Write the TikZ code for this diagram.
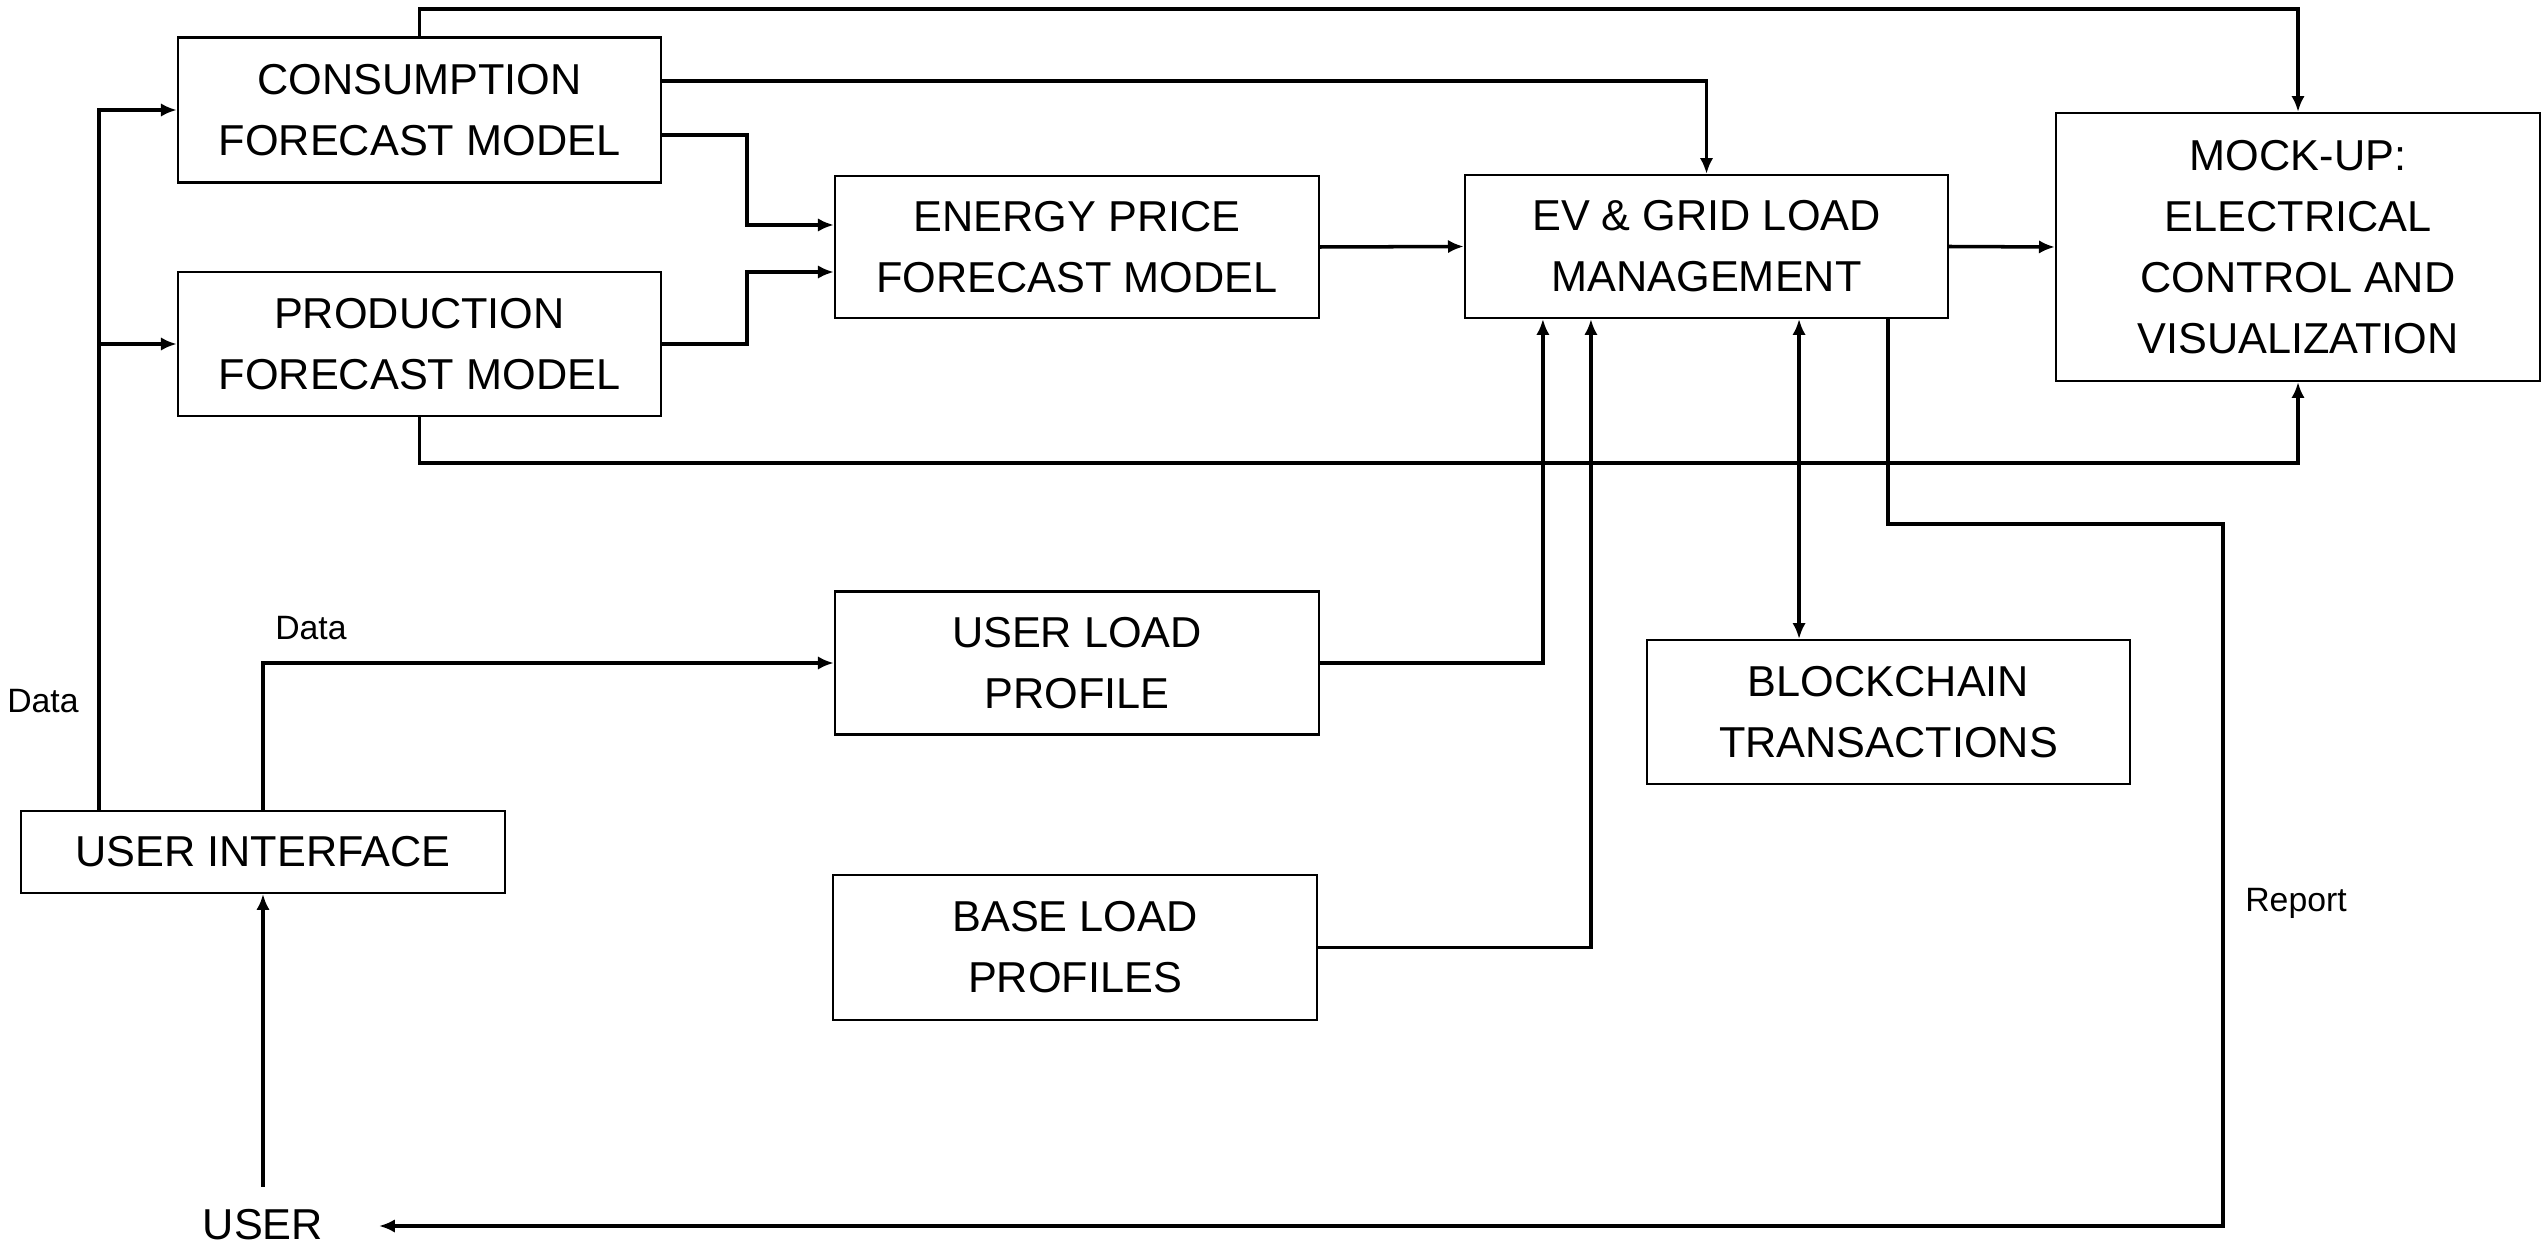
\documentclass[tikz,border=0pt]{standalone}
\usepackage{fontspec}
\setmainfont{Liberation Sans}
\usetikzlibrary{arrows.meta,calc}
\begin{document}
\begin{tikzpicture}[x=0.01cm,y=-0.01cm,
  blk/.style={draw,line width=0.6pt,inner sep=0pt,align=center,
    font=\fontsize{12.3}{17.4}\selectfont},
  conn/.style={line width=1pt,-{Latex[length=4.5pt,width=3.8pt]}},
  lbl/.style={font=\fontsize{9.6}{11}\selectfont,inner sep=0pt}]
\useasboundingbox (0,0) rectangle (2542,1246);
\node[blk,minimum width=4.83cm,minimum height=1.45cm] (cons) at (419.5,110) {CONSUMPTION\\FORECAST MODEL};
\node[blk,minimum width=4.83cm,minimum height=1.44cm] (prod) at (419.5,344) {PRODUCTION\\FORECAST MODEL};
\node[blk,minimum width=4.84cm,minimum height=1.42cm] (price) at (1077,247) {ENERGY PRICE\\FORECAST MODEL};
\node[blk,minimum width=4.83cm,minimum height=1.43cm] (ev) at (1706.5,246.5) {EV \& GRID LOAD\\MANAGEMENT};
\node[blk,minimum width=4.84cm,minimum height=2.68cm] (mock) at (2298,247) {MOCK-UP:\\ELECTRICAL\\CONTROL AND\\VISUALIZATION};
\node[blk,minimum width=4.84cm,minimum height=1.43cm] (ulp) at (1077,663) {USER LOAD\\PROFILE};
\node[blk,minimum width=4.83cm,minimum height=1.44cm] (bc) at (1888.5,712) {BLOCKCHAIN\\TRANSACTIONS};
\node[blk,minimum width=4.84cm,minimum height=0.82cm] (ui) at (263,852) {USER INTERFACE};
\node[blk,minimum width=4.84cm,minimum height=1.45cm] (blp) at (1075,947.5) {BASE LOAD\\PROFILES};
\node[font=\fontsize{12.3}{15}\selectfont,inner sep=0pt] (user) at (263,1225) {USER};
\coordinate (usertip) at (379,1226);

% top connectors
\draw[conn] (cons.north) -- ++(0,-27.5) -| (mock.north);
\draw[conn] ([yshift=0.29cm]cons.east) -| (ev.north);
\draw[conn] ([yshift=-0.25cm]cons.east) -- ++(85,0) |- ([yshift=0.22cm]price.west);
\draw[conn] (prod.east) -- ++(85,0) |- ([yshift=-0.25cm]price.west);
\draw[conn] (prod.south) -- ++(0,46) -| (mock.south);
\draw[conn] (price.east) -- (ev.west);
\draw[conn] (ev.east) -- (mock.west);

% left data lines
\draw[conn] ([xshift=-1.64cm]ui.north) |- (cons.west);
\draw[conn] ([xshift=-1.64cm]ui.north) |- (prod.west);
\node[lbl] (data1) at (43,701) {Data};
\draw[conn] (ui.north) |- (ulp.west);
\node[lbl] (data2) at (311,628) {Data};
\draw[conn] ([yshift=0.22cm]user.north) -- (ui.south);

% into EV
\draw[conn] (ulp.east) -| ([xshift=-1.635cm]ev.south);
\draw[conn] (blp.east) -| ([xshift=-1.155cm]ev.south);
\draw[line width=1pt,{Latex[length=4.5pt,width=3.8pt]}-{Latex[length=4.5pt,width=3.8pt]}]
  ([xshift=0.925cm]ev.south) -- ([xshift=0.925cm]ev.south |- bc.north);

% report
\draw[conn] ([xshift=1.815cm]ev.south) -- ++(0,205) -- ++(335,0) |- (usertip);
\node[lbl] (report) at (2296,903) {Report};
\end{tikzpicture}
\end{document}
